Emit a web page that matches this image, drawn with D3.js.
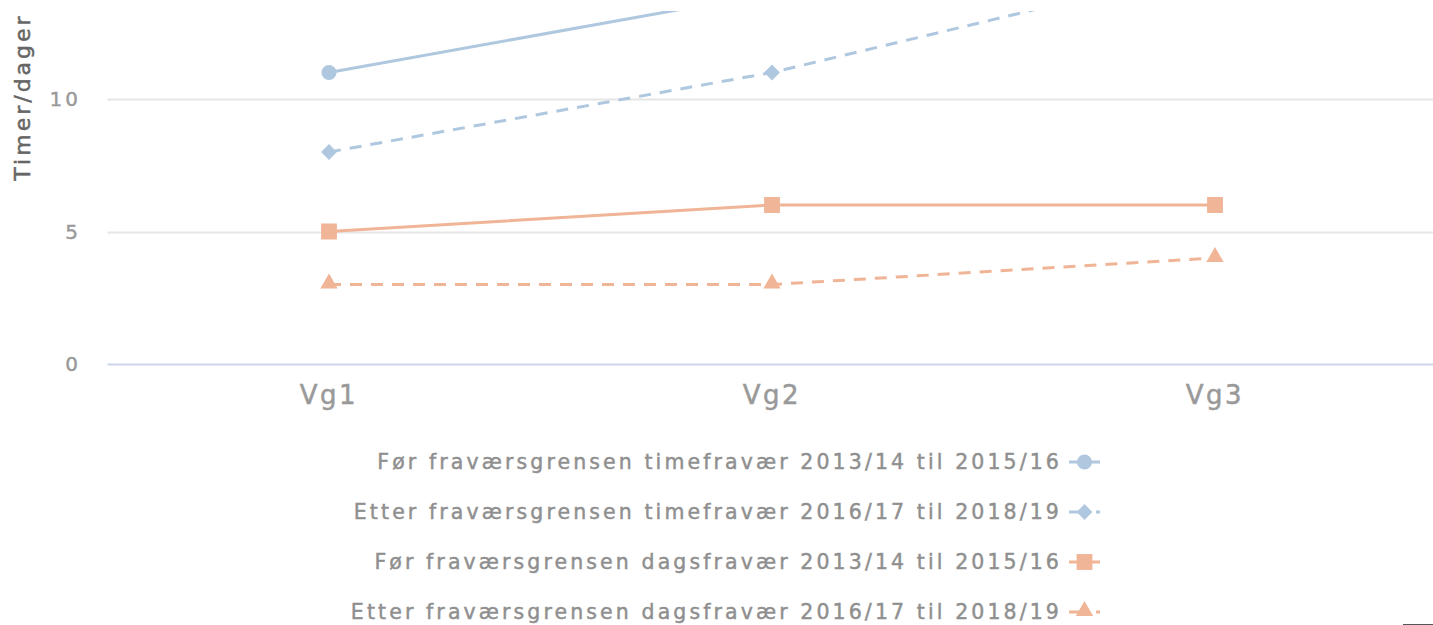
<!DOCTYPE html>
<html>
<head>
<meta charset="utf-8">
<script src="https://cdn.jsdelivr.net/npm/d3@7"></script>
<style>
  html, body { margin: 0; padding: 0; background: #fff; overflow: hidden; }
  svg { display: block; font-family: "DejaVu Sans", Verdana, sans-serif; }
</style>
</head>
<body>
<svg id="chart" width="1433" height="625"></svg>
<script>
// categories and series
var categories = ['Vg1', 'Vg2', 'Vg3']
var seriesNames = [
  'Før fraværsgrensen timefravær 2013/14 til 2015/16',
  'Etter fraværsgrensen timefravær 2016/17 til 2018/19',
  'Før fraværsgrensen dagsfravær 2013/14 til 2015/16',
  'Etter fraværsgrensen dagsfravær 2016/17 til 2018/19'
]
var timeForValues = [11, 14, 16]
var timeEtterValues = [8, 11, 15]
var dagForValues = [5, 6, 6]
var dagEtterValues = [3, 3, 4]
var yTicks = [0, 5, 10]

var blue = '#afc8df',
  orange = '#f0b496'

var series = [
  { name: seriesNames[0], values: timeForValues, color: blue, dash: null, symbol: 'circle' },
  { name: seriesNames[1], values: timeEtterValues, color: blue, dash: '12,9', symbol: 'diamond' },
  { name: seriesNames[2], values: dagForValues, color: orange, dash: null, symbol: 'square' },
  { name: seriesNames[3], values: dagEtterValues, color: orange, dash: '12,9', symbol: 'triangle' }
]

var svg = d3.select('#chart')
var plot = { left: 107.5, right: 1436.5, top: 11, bottom: 364 }

var x = d3.scaleBand()
  .domain(categories)
  .range([plot.left, plot.right])
var y = d3.scaleLinear()
  .domain([0, 10])
  .range([plot.bottom, 99])

function cx(d, i) {
  return x(categories[i]) + x.bandwidth() / 2
}

svg.append('defs').append('clipPath')
  .attr('id', 'plotClip')
  .append('rect')
  .attr('x', plot.left)
  .attr('y', plot.top)
  .attr('width', plot.right - plot.left)
  .attr('height', plot.bottom - plot.top)

// grid lines
svg.append('g')
  .selectAll('line')
  .data(yTicks.filter(function(t) { return t > 0 }))
  .enter().append('line')
  .attr('x1', plot.left)
  .attr('x2', plot.right)
  .attr('y1', function(d) { return Math.round(y(d)) + 0.5 })
  .attr('y2', function(d) { return Math.round(y(d)) + 0.5 })
  .attr('stroke', '#e6e6e6')
  .attr('stroke-width', 2)

// x axis line
svg.append('line')
  .attr('x1', plot.left)
  .attr('x2', plot.right)
  .attr('y1', plot.bottom + 0.5)
  .attr('y2', plot.bottom + 0.5)
  .attr('stroke', '#ccd6eb')
  .attr('stroke-width', 2)

// y tick labels
svg.append('g')
  .selectAll('text')
  .data(yTicks)
  .enter().append('text')
  .attr('x', 81)
  .attr('y', function(d) { return y(d) + 7 })
  .attr('text-anchor', 'end')
  .attr('font-size', 20)
  .attr('letter-spacing', 3)
  .attr('fill', '#999999')
  .attr('stroke', '#999999')
  .attr('stroke-width', 0.4)
  .text(function(d) { return d })

// x labels
svg.append('g')
  .selectAll('text')
  .data(categories)
  .enter().append('text')
  .attr('x', function(d) { return x(d) + x.bandwidth() / 2 })
  .attr('y', 404)
  .attr('text-anchor', 'middle')
  .attr('font-size', 26)
  .attr('letter-spacing', 2.5)
  .attr('fill', '#999999')
  .attr('stroke', '#999999')
  .attr('stroke-width', 0.5)
  .text(function(d) { return d })

// y axis title
svg.append('text')
  .attr('transform', 'translate(30,97) rotate(-90)')
  .attr('text-anchor', 'middle')
  .attr('font-size', 22)
  .attr('letter-spacing', 3)
  .attr('fill', '#666666')
  .attr('stroke', '#666666')
  .attr('stroke-width', 0.5)
  .text('Timer/dager')

var symbolTypes = {
  circle: d3.symbolCircle,
  diamond: d3.symbolSquare,
  square: d3.symbolSquare,
  triangle: d3.symbolTriangle
}
var symbolSizes = { circle: 180, diamond: 125, square: 250, triangle: 130 }

function symbolPath(s) {
  return d3.symbol().type(symbolTypes[s]).size(symbolSizes[s])()
}
function symbolTransform(s, px, py) {
  var t = 'translate(' + px + ',' + (py + (s === 'triangle' ? -1 : 0)) + ')'
  return s === 'diamond' ? t + ' rotate(45)' : t
}

var line = d3.line()
  .x(cx)
  .y(function(d) { return y(d) })

var lines = svg.append('g').attr('clip-path', 'url(#plotClip)')
series.forEach(function(s) {
  lines.append('path')
    .datum(s.values)
    .attr('d', line)
    .attr('fill', 'none')
    .attr('stroke', s.color)
    .attr('stroke-width', 3)
    .attr('stroke-dasharray', s.dash)
})
series.forEach(function(s) {
  lines.append('g')
    .selectAll('path')
    .data(s.values)
    .enter().append('path')
    .attr('transform', function(d, i) {
      return symbolTransform(s.symbol, cx(d, i), y(d))
    })
    .attr('d', symbolPath(s.symbol))
    .attr('fill', s.color)
})

// legend
var legend = svg.append('g')
var rowY = [462, 512, 562, 612]
series.forEach(function(s, i) {
  var g = legend.append('g').attr('transform', 'translate(0,' + rowY[i] + ')')
  g.append('text')
    .attr('x', 1062)
    .attr('y', 7)
    .attr('text-anchor', 'end')
    .attr('font-size', 20.5)
    .attr('letter-spacing', 3.1)
    .attr('fill', '#8f8f8f')
    .attr('stroke', '#8f8f8f')
    .attr('stroke-width', 0.45)
    .text(s.name)
  g.append('line')
    .attr('x1', 1069)
    .attr('x2', 1100)
    .attr('y1', 0)
    .attr('y2', 0)
    .attr('stroke', s.color)
    .attr('stroke-width', 3)
    .attr('stroke-dasharray', s.dash ? '11,16,4,20' : null)
  g.append('path')
    .attr('transform', symbolTransform(s.symbol, 1084.5, 0))
    .attr('d', symbolPath(s.symbol))
    .attr('fill', s.color)
})

// small mark at bottom right edge
svg.append('line')
  .attr('x1', 1403)
  .attr('x2', 1433)
  .attr('y1', 624.5)
  .attr('y2', 624.5)
  .attr('stroke', '#555')
  .attr('stroke-width', 1)
</script>
</body>
</html>
